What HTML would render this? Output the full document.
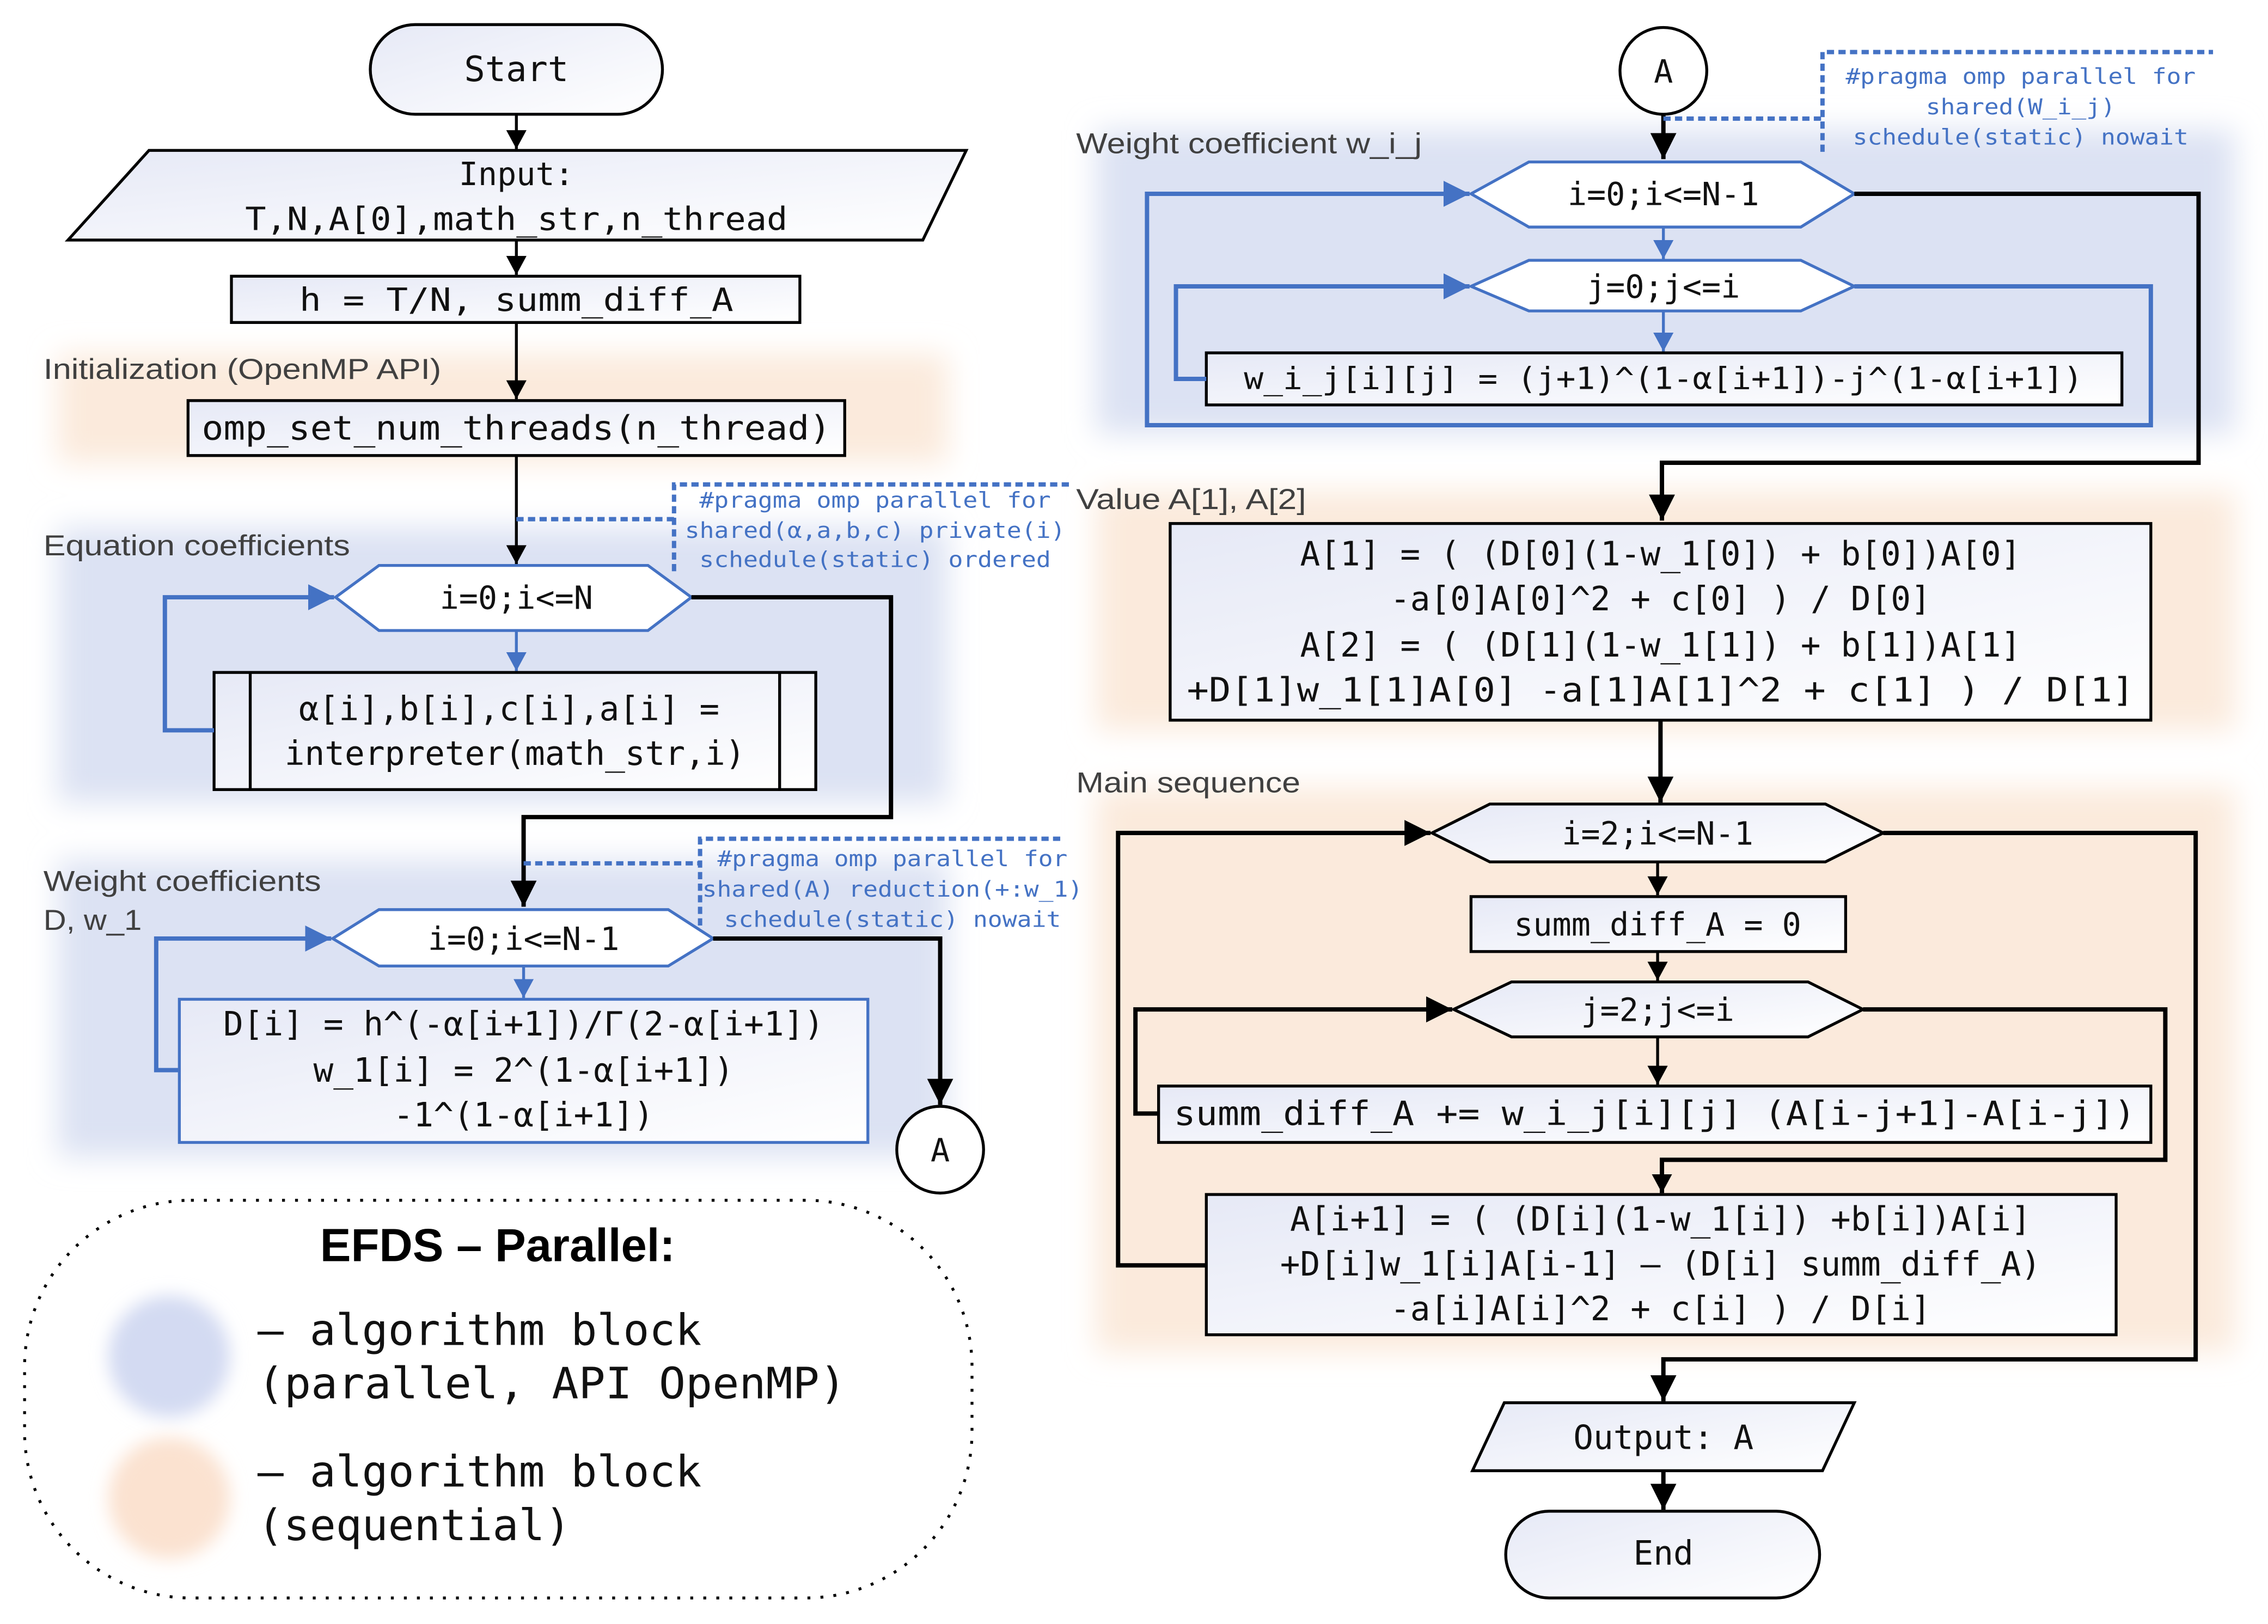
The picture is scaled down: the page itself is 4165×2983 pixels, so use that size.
<!DOCTYPE html>
<html><head><meta charset="utf-8">
<style>
html,body{margin:0;padding:0;background:#fff;}
svg{display:block;}
.m{font-family:"DejaVu Sans Mono","Liberation Mono",monospace;fill:#111;}
.s{font-family:"Liberation Sans","DejaVu Sans",sans-serif;fill:#404040;}
.p{font-family:"DejaVu Sans Mono","Liberation Mono",monospace;fill:#4472c4;font-size:15px;}
</style></head><body>
<svg width="4165" height="2983" viewBox="0 0 1568 1123" xmlns="http://www.w3.org/2000/svg">
<defs>
<linearGradient id="g" x1="0" y1="0" x2="1" y2="1"><stop offset="0" stop-color="#e6e9f6"/><stop offset="1" stop-color="#ffffff"/></linearGradient>
<filter id="b" x="-20%" y="-20%" width="140%" height="140%"><feGaussianBlur stdDeviation="10"/></filter>
<filter id="b2" x="-50%" y="-50%" width="200%" height="200%"><feGaussianBlur stdDeviation="6"/></filter>
<marker id="ak" markerWidth="14" markerHeight="14" refX="13" refY="7" orient="auto" markerUnits="userSpaceOnUse"><path d="M0,0 L13,7 L0,14 z" fill="#000"/></marker>
<marker id="ab" markerWidth="20" markerHeight="18" refX="18" refY="9" orient="auto" markerUnits="userSpaceOnUse"><path d="M0,0 L18,9 L0,18 z" fill="#000"/></marker>
<marker id="bb" markerWidth="20" markerHeight="18" refX="18" refY="9" orient="auto" markerUnits="userSpaceOnUse"><path d="M0,0 L18,9 L0,18 z" fill="#4472c4"/></marker>
<marker id="bs" markerWidth="14" markerHeight="14" refX="13" refY="7" orient="auto" markerUnits="userSpaceOnUse"><path d="M0,0 L13,7 L0,14 z" fill="#4472c4"/></marker>
</defs>

<g filter="url(#b)">
<rect x="40" y="245" width="615" height="75" fill="#fbeadc"/>
<rect x="40" y="365" width="615" height="190" fill="#dce2f3"/>
<rect x="40" y="595" width="615" height="205" fill="#dce2f3"/>
<rect x="758" y="90" width="787" height="210" fill="#dce2f3"/>
<rect x="758" y="340" width="787" height="165" fill="#fbeadc"/>
<rect x="758" y="545" width="787" height="390" fill="#fbeadc"/>
</g>

<text class="s" x="30" y="262" font-size="20" textLength="275" lengthAdjust="spacingAndGlyphs">Initialization (OpenMP API)</text>
<text class="s" x="30" y="384" font-size="20" textLength="212" lengthAdjust="spacingAndGlyphs">Equation coefficients</text>
<text class="s" x="30" y="616" font-size="20" textLength="192" lengthAdjust="spacingAndGlyphs">Weight coefficients</text>
<text class="s" x="30" y="643" font-size="20" textLength="68" lengthAdjust="spacingAndGlyphs">D, w_1</text>
<text class="s" x="744" y="106" font-size="20" textLength="239" lengthAdjust="spacingAndGlyphs">Weight coefficient w_i_j</text>
<text class="s" x="744" y="352" font-size="20" textLength="159" lengthAdjust="spacingAndGlyphs">Value A[1], A[2]</text>
<text class="s" x="744" y="548" font-size="20" textLength="155" lengthAdjust="spacingAndGlyphs">Main sequence</text>

<rect x="256" y="17" width="202" height="62" rx="31" fill="url(#g)" stroke="#000" stroke-width="2"/>
<text class="m" x="357" y="56" font-size="24" text-anchor="middle">Start</text>
<line x1="357" y1="79" x2="357" y2="103" stroke="#000" stroke-width="2" marker-end="url(#ak)"/>
<polygon points="103,104 668,104 638,166 47,166" fill="url(#g)" stroke="#000" stroke-width="2"/>
<text class="m" x="357" y="128" font-size="22" text-anchor="middle">Input:</text>
<text class="m" x="357" y="159" font-size="22" text-anchor="middle" textLength="375" lengthAdjust="spacingAndGlyphs">T,N,A[0],math_str,n_thread</text>
<line x1="357" y1="166" x2="357" y2="190" stroke="#000" stroke-width="2" marker-end="url(#ak)"/>
<rect x="160" y="191" width="393" height="32" fill="url(#g)" stroke="#000" stroke-width="2"/>
<text class="m" x="357" y="215" font-size="22" text-anchor="middle" textLength="300" lengthAdjust="spacingAndGlyphs">h = T/N, summ_diff_A</text>
<line x1="357" y1="223" x2="357" y2="276" stroke="#000" stroke-width="2" marker-end="url(#ak)"/>
<rect x="130" y="277" width="454" height="38" fill="url(#g)" stroke="#000" stroke-width="2"/>
<text class="m" x="357" y="304" font-size="23" text-anchor="middle" textLength="435" lengthAdjust="spacingAndGlyphs">omp_set_num_threads(n_thread)</text>
<line x1="357" y1="315" x2="357" y2="390" stroke="#000" stroke-width="2" marker-end="url(#ak)"/>
<path d="M357,359 H466 M466,395 V335 H740" fill="none" stroke="#4472c4" stroke-width="3" stroke-dasharray="5,3"/>
<text class="p" x="605" y="351" text-anchor="middle" textLength="243" lengthAdjust="spacingAndGlyphs">#pragma omp parallel for</text>
<text class="p" x="605" y="372" text-anchor="middle" textLength="263" lengthAdjust="spacingAndGlyphs">shared(α,a,b,c) private(i)</text>
<text class="p" x="605" y="392" text-anchor="middle" textLength="243" lengthAdjust="spacingAndGlyphs">schedule(static) ordered</text>
<polygon points="232,413 262,391 448,391 478,413 448,436 262,436" fill="#fff" stroke="#4472c4" stroke-width="2"/>
<text class="m" x="357" y="421" font-size="22" text-anchor="middle">i=0;i&lt;=N</text>
<line x1="357" y1="436" x2="357" y2="464" stroke="#4472c4" stroke-width="2" marker-end="url(#bs)"/>
<rect x="148" y="465" width="416" height="81" fill="url(#g)" stroke="#000" stroke-width="2"/>
<line x1="173" y1="465" x2="173" y2="546" stroke="#000" stroke-width="2"/>
<line x1="539" y1="465" x2="539" y2="546" stroke="#000" stroke-width="2"/>
<text class="m" x="352" y="498" font-size="23" text-anchor="middle">α[i],b[i],c[i],a[i] =</text>
<text class="m" x="356" y="529" font-size="23" text-anchor="middle">interpreter(math_str,i)</text>
<path d="M148,505 H114 V413 H231" fill="none" stroke="#4472c4" stroke-width="3" marker-end="url(#bb)"/>
<path d="M478,413 H616 V565 H362 V627" fill="none" stroke="#000" stroke-width="3" marker-end="url(#ab)"/>
<path d="M362,597 H484 M484,640 V580 H735" fill="none" stroke="#4472c4" stroke-width="3" stroke-dasharray="5,3"/>
<text class="p" x="617" y="599" text-anchor="middle" textLength="242" lengthAdjust="spacingAndGlyphs">#pragma omp parallel for</text>
<text class="p" x="617" y="620" text-anchor="middle" textLength="263" lengthAdjust="spacingAndGlyphs">shared(A) reduction(+:w_1)</text>
<text class="p" x="617" y="641" text-anchor="middle" textLength="233" lengthAdjust="spacingAndGlyphs">schedule(static) nowait</text>
<polygon points="230,649 262,629 462,629 493,649 462,668 262,668" fill="#fff" stroke="#4472c4" stroke-width="2"/>
<text class="m" x="362" y="657" font-size="22" text-anchor="middle">i=0;i&lt;=N-1</text>
<line x1="362" y1="668" x2="362" y2="690" stroke="#4472c4" stroke-width="2" marker-end="url(#bs)"/>
<rect x="124" y="691" width="476" height="99" fill="url(#g)" stroke="#4472c4" stroke-width="2"/>
<text class="m" x="362" y="716" font-size="23" text-anchor="middle">D[i] = h^(-α[i+1])/Γ(2-α[i+1])</text>
<text class="m" x="362" y="748" font-size="23" text-anchor="middle">w_1[i] = 2^(1-α[i+1])</text>
<text class="m" x="362" y="779" font-size="23" text-anchor="middle">-1^(1-α[i+1])</text>
<path d="M124,740 H108 V649 H229" fill="none" stroke="#4472c4" stroke-width="3" marker-end="url(#bb)"/>
<path d="M493,649 H650 V764" fill="none" stroke="#000" stroke-width="3" marker-end="url(#ab)"/>
<circle cx="650" cy="795" r="30" fill="#fff" stroke="#000" stroke-width="2"/>
<text class="m" x="650" y="803" font-size="22" text-anchor="middle">A</text>

<rect x="17" y="830" width="655" height="275" rx="115" fill="none" stroke="#000" stroke-width="2" stroke-dasharray="2,7"/>
<text x="344" y="872" font-family="Liberation Sans,sans-serif" font-weight="bold" font-size="32" text-anchor="middle" fill="#000">EFDS – Parallel:</text>
<circle cx="117" cy="938" r="42" fill="#d3daf2" filter="url(#b2)"/>
<circle cx="117" cy="1036" r="42" fill="#fbe2d0" filter="url(#b2)"/>
<text class="m" x="178" y="930" font-size="30">– algorithm block</text>
<text class="m" x="178" y="967" font-size="30" textLength="407" lengthAdjust="spacingAndGlyphs">(parallel, API OpenMP)</text>
<text class="m" x="178" y="1028" font-size="30">– algorithm block</text>
<text class="m" x="178" y="1065" font-size="30">(sequential)</text>

<circle cx="1150" cy="49" r="30" fill="#fff" stroke="#000" stroke-width="2"/>
<text class="m" x="1150" y="57" font-size="22" text-anchor="middle">A</text>
<line x1="1150" y1="79" x2="1150" y2="110" stroke="#000" stroke-width="3" marker-end="url(#ab)"/>
<path d="M1150,82 H1260 M1260,105 V36 H1530" fill="none" stroke="#4472c4" stroke-width="3" stroke-dasharray="5,3"/>
<text class="p" x="1397" y="58" text-anchor="middle" textLength="242" lengthAdjust="spacingAndGlyphs">#pragma omp parallel for</text>
<text class="p" x="1397" y="79" text-anchor="middle" textLength="131" lengthAdjust="spacingAndGlyphs">shared(W_i_j)</text>
<text class="p" x="1397" y="100" text-anchor="middle" textLength="232" lengthAdjust="spacingAndGlyphs">schedule(static) nowait</text>
<polygon points="1017,134 1057,112 1245,112 1282,134 1245,157 1057,157" fill="#fff" stroke="#4472c4" stroke-width="2"/>
<text class="m" x="1150" y="142" font-size="22" text-anchor="middle">i=0;i&lt;=N-1</text>
<line x1="1150" y1="157" x2="1150" y2="179" stroke="#4472c4" stroke-width="2" marker-end="url(#bs)"/>
<polygon points="1017,198 1057,180 1245,180 1282,198 1245,215 1057,215" fill="#fff" stroke="#4472c4" stroke-width="2"/>
<text class="m" x="1150" y="206" font-size="22" text-anchor="middle">j=0;j&lt;=i</text>
<line x1="1150" y1="215" x2="1150" y2="243" stroke="#4472c4" stroke-width="2" marker-end="url(#bs)"/>
<rect x="834" y="244" width="633" height="36" fill="url(#g)" stroke="#000" stroke-width="2"/>
<text class="m" x="1150" y="269" font-size="21" text-anchor="middle" textLength="580" lengthAdjust="spacingAndGlyphs">w_i_j[i][j] = (j+1)^(1-α[i+1])-j^(1-α[i+1])</text>
<path d="M834,262 H813 V198 H1016" fill="none" stroke="#4472c4" stroke-width="3" marker-end="url(#bb)"/>
<path d="M1282,198 H1487 V294 H793 V134 H1016" fill="none" stroke="#4472c4" stroke-width="3" marker-end="url(#bb)"/>
<path d="M1282,134 H1520 V320 H1149 V360" fill="none" stroke="#000" stroke-width="3" marker-end="url(#ab)"/>
<rect x="809" y="362" width="678" height="136" fill="url(#g)" stroke="#000" stroke-width="2"/>
<text class="m" x="1148" y="391" font-size="23" text-anchor="middle">A[1] = ( (D[0](1-w_1[0]) + b[0])A[0]</text>
<text class="m" x="1148" y="422" font-size="23" text-anchor="middle">-a[0]A[0]^2 + c[0] ) / D[0]</text>
<text class="m" x="1148" y="454" font-size="23" text-anchor="middle">A[2] = ( (D[1](1-w_1[1]) + b[1])A[1]</text>
<text class="m" x="1148" y="485" font-size="23" text-anchor="middle" textLength="655" lengthAdjust="spacingAndGlyphs">+D[1]w_1[1]A[0] -a[1]A[1]^2 + c[1] ) / D[1]</text>
<line x1="1148" y1="498" x2="1148" y2="555" stroke="#000" stroke-width="3" marker-end="url(#ab)"/>
<polygon points="990,576 1030,556 1262,556 1302,576 1262,596 1030,596" fill="url(#g)" stroke="#000" stroke-width="2"/>
<text class="m" x="1146" y="584" font-size="22" text-anchor="middle">i=2;i&lt;=N-1</text>
<line x1="1146" y1="596" x2="1146" y2="619" stroke="#000" stroke-width="2" marker-end="url(#ak)"/>
<rect x="1017" y="620" width="259" height="38" fill="url(#g)" stroke="#000" stroke-width="2"/>
<text class="m" x="1146" y="647" font-size="22" text-anchor="middle">summ_diff_A = 0</text>
<line x1="1146" y1="658" x2="1146" y2="678" stroke="#000" stroke-width="2" marker-end="url(#ak)"/>
<polygon points="1005,698 1045,679 1250,679 1288,698 1250,717 1045,717" fill="url(#g)" stroke="#000" stroke-width="2"/>
<text class="m" x="1146" y="706" font-size="22" text-anchor="middle">j=2;j&lt;=i</text>
<line x1="1146" y1="717" x2="1146" y2="750" stroke="#000" stroke-width="2" marker-end="url(#ak)"/>
<rect x="801" y="751" width="686" height="39" fill="url(#g)" stroke="#000" stroke-width="2"/>
<text class="m" x="1144" y="778" font-size="23" text-anchor="middle" textLength="665" lengthAdjust="spacingAndGlyphs">summ_diff_A += w_i_j[i][j] (A[i-j+1]-A[i-j])</text>
<path d="M801,770 H785 V698 H1004" fill="none" stroke="#000" stroke-width="3" marker-end="url(#ab)"/>
<path d="M1288,698 H1497 V802 H1149 V825" fill="none" stroke="#000" stroke-width="3" marker-end="url(#ak)"/>
<rect x="834" y="826" width="629" height="97" fill="url(#g)" stroke="#000" stroke-width="2"/>
<text class="m" x="1148" y="851" font-size="23" text-anchor="middle">A[i+1] = ( (D[i](1-w_1[i]) +b[i])A[i]</text>
<text class="m" x="1148" y="882" font-size="23" text-anchor="middle">+D[i]w_1[i]A[i-1] – (D[i] summ_diff_A)</text>
<text class="m" x="1148" y="913" font-size="23" text-anchor="middle">-a[i]A[i]^2 + c[i] ) / D[i]</text>
<path d="M834,875 H773 V576 H989" fill="none" stroke="#000" stroke-width="3" marker-end="url(#ab)"/>
<path d="M1302,576 H1518 V940 H1150 V969" fill="none" stroke="#000" stroke-width="3" marker-end="url(#ab)"/>
<polygon points="1040,970 1282,970 1260,1017 1018,1017" fill="url(#g)" stroke="#000" stroke-width="2"/>
<text class="m" x="1150" y="1002" font-size="23" text-anchor="middle">Output: A</text>
<line x1="1150" y1="1017" x2="1150" y2="1044" stroke="#000" stroke-width="3" marker-end="url(#ab)"/>
<rect x="1041" y="1045" width="217" height="60" rx="30" fill="url(#g)" stroke="#000" stroke-width="2"/>
<text class="m" x="1150" y="1082" font-size="23" text-anchor="middle">End</text>
</svg>
</body></html>
